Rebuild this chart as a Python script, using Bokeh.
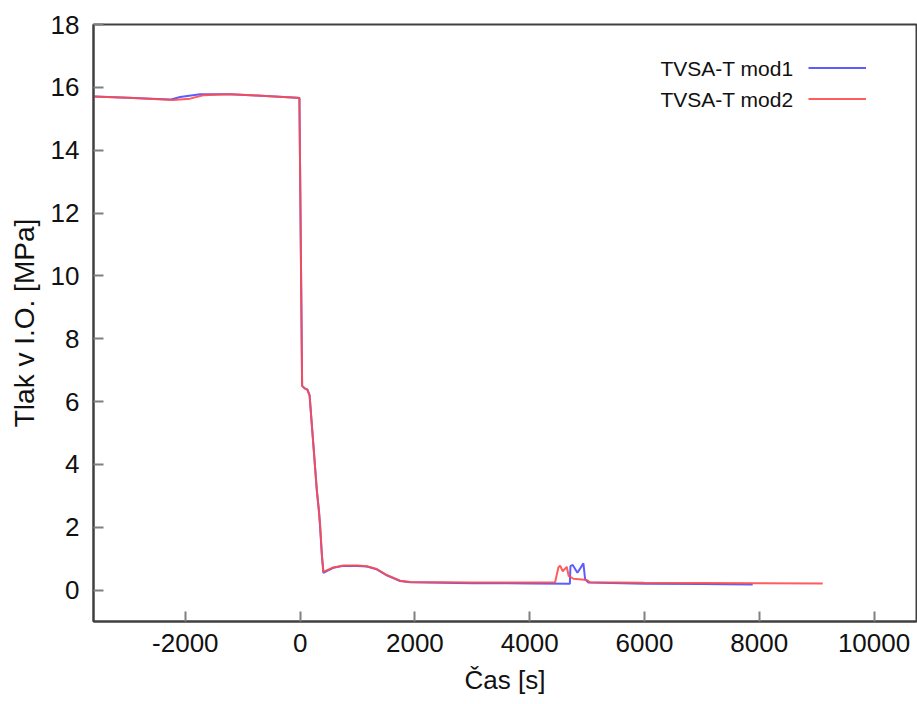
from bokeh.plotting import figure
from bokeh.models import Range1d, FixedTicker, Legend, LegendItem, Label
from bokeh.embed import file_html
from bokeh.resources import INLINE

# --- data ---
t_mod1 = [-3600, -3000, -2265, -2090, -1742, -1220, -754, -57, -12, 35, 80, 127, 165,
          232, 290, 330, 348, 380, 406, 480, 580, 754, 1000, 1162, 1336, 1510, 1742,
          1916, 3000, 4000, 4700, 4710, 4750, 4832, 4936, 4966, 5023, 6000, 7000, 7886]
p_mod1 = [15.71, 15.67, 15.61, 15.69, 15.78, 15.78, 15.74, 15.67, 15.66, 6.5, 6.42, 6.38, 6.2,
          4.6, 3.2, 2.5, 2.0, 1.1, 0.55, 0.62, 0.71, 0.77, 0.77, 0.75, 0.66, 0.47, 0.29,
          0.25, 0.22, 0.21, 0.2, 0.76, 0.8, 0.55, 0.85, 0.34, 0.24, 0.2, 0.19, 0.18]

t_mod2 = [-3600, -3000, -2210, -1916, -1690, -1220, -754, -57, -12, 35, 80, 127, 165,
          232, 290, 348, 380, 406, 480, 580, 754, 1000, 1162, 1336, 1510, 1742,
          1916, 3000, 4000, 4443, 4500, 4530, 4576, 4646, 4680, 4762, 4995, 5052,
          6000, 8000, 9106]
p_mod2 = [15.71, 15.67, 15.6, 15.64, 15.75, 15.78, 15.74, 15.67, 15.66, 6.5, 6.42, 6.38, 6.2,
          4.6, 3.2, 2.1, 1.1, 0.58, 0.64, 0.72, 0.78, 0.78, 0.76, 0.67, 0.48, 0.3,
          0.26, 0.24, 0.24, 0.25, 0.72, 0.78, 0.6, 0.74, 0.45, 0.36, 0.32, 0.25,
          0.23, 0.22, 0.21]

x_ticks = [-2000, 0, 2000, 4000, 6000, 8000, 10000]
y_ticks = [0, 2, 4, 6, 8, 10, 12, 14, 16, 18]
series_names = ["TVSA-T mod1", "TVSA-T mod2"]

FONT = "Liberation Sans"

p = figure(width=917, height=704, output_backend="svg", toolbar_location=None,
           x_range=Range1d(-3600, 10740), y_range=Range1d(-1, 18),
           min_border_left=93, min_border_right=1, min_border_top=24, min_border_bottom=83)

p.background_fill_color = "white"
p.border_fill_color = "white"
p.outline_line_color = "#404040"
p.outline_line_width = 2
p.grid.visible = False

r1 = p.line(t_mod1, p_mod1, line_color="#4b4bff", line_width=2, line_alpha=0.9)
r2 = p.line(t_mod2, p_mod2, line_color="#ff4b4b", line_width=2, line_alpha=0.9)

for ax in (p.xaxis[0], p.yaxis[0]):
    ax.axis_line_color = "#404040"
    ax.axis_line_width = 2
    ax.major_tick_in = 10
    ax.major_tick_out = 0
    ax.major_tick_line_color = "#808080"
    ax.major_tick_line_width = 2
    ax.minor_tick_line_color = None
    ax.major_label_text_font = FONT
    ax.major_label_text_font_size = "26px"
    ax.major_label_text_color = "#111111"
    ax.axis_label_text_font = FONT
    ax.axis_label_text_font_style = "normal"
    ax.axis_label_text_color = "#111111"

p.xaxis[0].ticker = FixedTicker(ticks=x_ticks)
p.yaxis[0].ticker = FixedTicker(ticks=y_ticks)
p.xaxis[0].major_label_overrides = {t: str(t) for t in x_ticks}
p.yaxis[0].major_label_overrides = {t: str(t) for t in y_ticks}
p.xaxis[0].axis_label = "Čas [s]"
p.yaxis[0].axis_label = "Tlak v I.O. [MPa]"
p.xaxis[0].axis_label_text_font_size = "26px"
p.yaxis[0].axis_label_text_font_size = "28px"
p.xaxis[0].major_label_standoff = 12
p.yaxis[0].major_label_standoff = 14
p.xaxis[0].axis_label_standoff = 10
p.yaxis[0].axis_label_standoff = 8

# legend: line samples via Legend, texts via Labels (texts sit left of lines)
legend = Legend(items=[LegendItem(label=" ", renderers=[r1]),
                       LegendItem(label=" ", renderers=[r2])],
                location="top_right", margin=20, padding=8, spacing=0,
                glyph_width=58, glyph_height=31, label_standoff=0, label_width=22,
                label_text_font_size="1px",
                background_fill_alpha=0, border_line_alpha=0)
p.add_layout(legend)

for i, name in enumerate(series_names):
    p.add_layout(Label(x=567, y=553 - 31 * i, x_units="screen", y_units="screen",
                       text=name, text_font=FONT, text_font_size="21px",
                       text_baseline="middle", text_align="left", text_color="#111111"))

open("out.html", "w").write(file_html(p, INLINE))
